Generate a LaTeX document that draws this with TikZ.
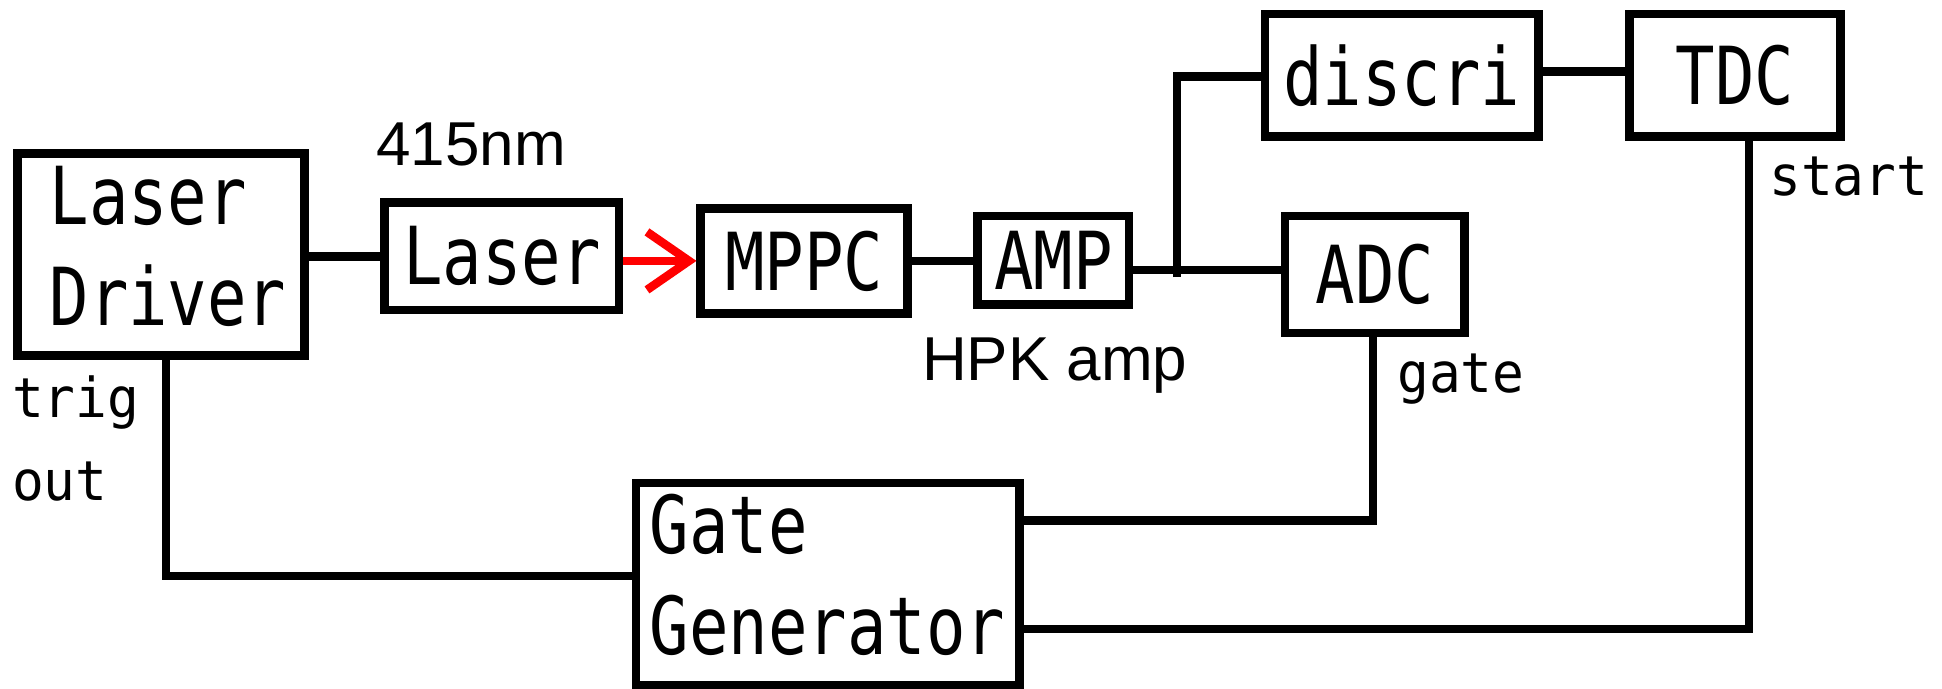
\documentclass[tikz,border=0pt]{standalone}
\usepackage{fontspec}
\usetikzlibrary{arrows.meta,calc}
\newfontfamily\boxfont[FakeStretch=0.82]{DejaVu Sans Mono}
\newfontfamily\lblfont[FakeStretch=0.96]{DejaVu Sans Mono}
\newfontfamily\arialfont{Liberation Sans}
\newcommand{\twolines}[4]{\hspace*{#1}\raisebox{#2}{\begin{tabular}{@{}l@{}}#3\\#4\end{tabular}}}
\begin{document}
\begin{tikzpicture}[x=1pt,y=-1pt,
  blk/.style={draw=black,line width=8.5pt,inner sep=0pt,
    font=\boxfont\fontsize{80}{101}\selectfont},
  wire/.style={draw=black,line width=8.5pt},
  beam/.style={draw=red,line width=8.5pt,-{Straight Barb[length=42pt,width=58pt]}},
  lbl/.style={inner sep=0pt,anchor=base west,align=left,
    font=\lblfont\fontsize{55}{83}\selectfont},
  note/.style={inner sep=0pt,anchor=base west,
    font=\arialfont\fontsize{62}{70}\selectfont}]
\useasboundingbox (0,0) rectangle (1942,688);
% blocks
\node[blk,minimum width=287pt,minimum height=201.6pt] (ld) at (161,254.5) {\twolines{14pt}{-4.5pt}{Laser}{Driver}};
\node[blk,minimum width=234.4pt,minimum height=107.5pt] (laser) at (501.8,256.3) {Laser};
\node[blk,minimum width=206.6pt,minimum height=105.2pt] (mppc) at (804,260.9) {MPPC};
\node[blk,minimum width=151.8pt,minimum height=88.5pt] (amp) at (1053.3,260.3) {AMP};
\node[blk,minimum width=273.5pt,minimum height=122.1pt] (discri) at (1401.5,75.25) {discri};
\node[blk,minimum width=211pt,minimum height=122.1pt] (tdc) at (1735,75.25) {TDC};
\node[blk,minimum width=179.8pt,minimum height=117pt] (adc) at (1374.8,274.5) {ADC};
\node[blk,minimum width=383.5pt,minimum height=200pt] (gg) at (827.5,584) {\twolines{0pt}{-3.5pt}{Gate}{Generator}};
% labels
\node[note] (wl) at (376,165) {415nm};
\node[note] (hpk) at (922,380) {HPK amp};
\node[lbl] (trig) at (12,500) {trig\\out};
\node[lbl] (start) at (1769,195) {start};
\node[lbl] (gate) at (1397,392) {gate};
% connectors
\coordinate (jn) at (1177,270);
\draw[wire] (laser.west -| ld.east) -- (laser.west);
\draw[beam] (mppc.west -| laser.east) -- (mppc.west);
\draw[wire] (mppc.east) -- (mppc.east -| amp.west);
\draw[wire] (amp.east |- jn) -- (adc.west |- jn);
\draw[wire] ([yshift=-7pt]jn) |- ([yshift=-1pt]discri.west);
\draw[wire] ([yshift=4pt]discri.east) -- ([yshift=4pt]tdc.west);
\draw[wire] ([xshift=5pt]ld.south) |- ([yshift=8pt]gg.west);
\draw[wire] ([yshift=63.5pt]gg.east) -| ([xshift=-2pt]adc.south);
\draw[wire] ([yshift=-45pt]gg.east) -| ([xshift=14pt]tdc.south);
\end{tikzpicture}
\end{document}
